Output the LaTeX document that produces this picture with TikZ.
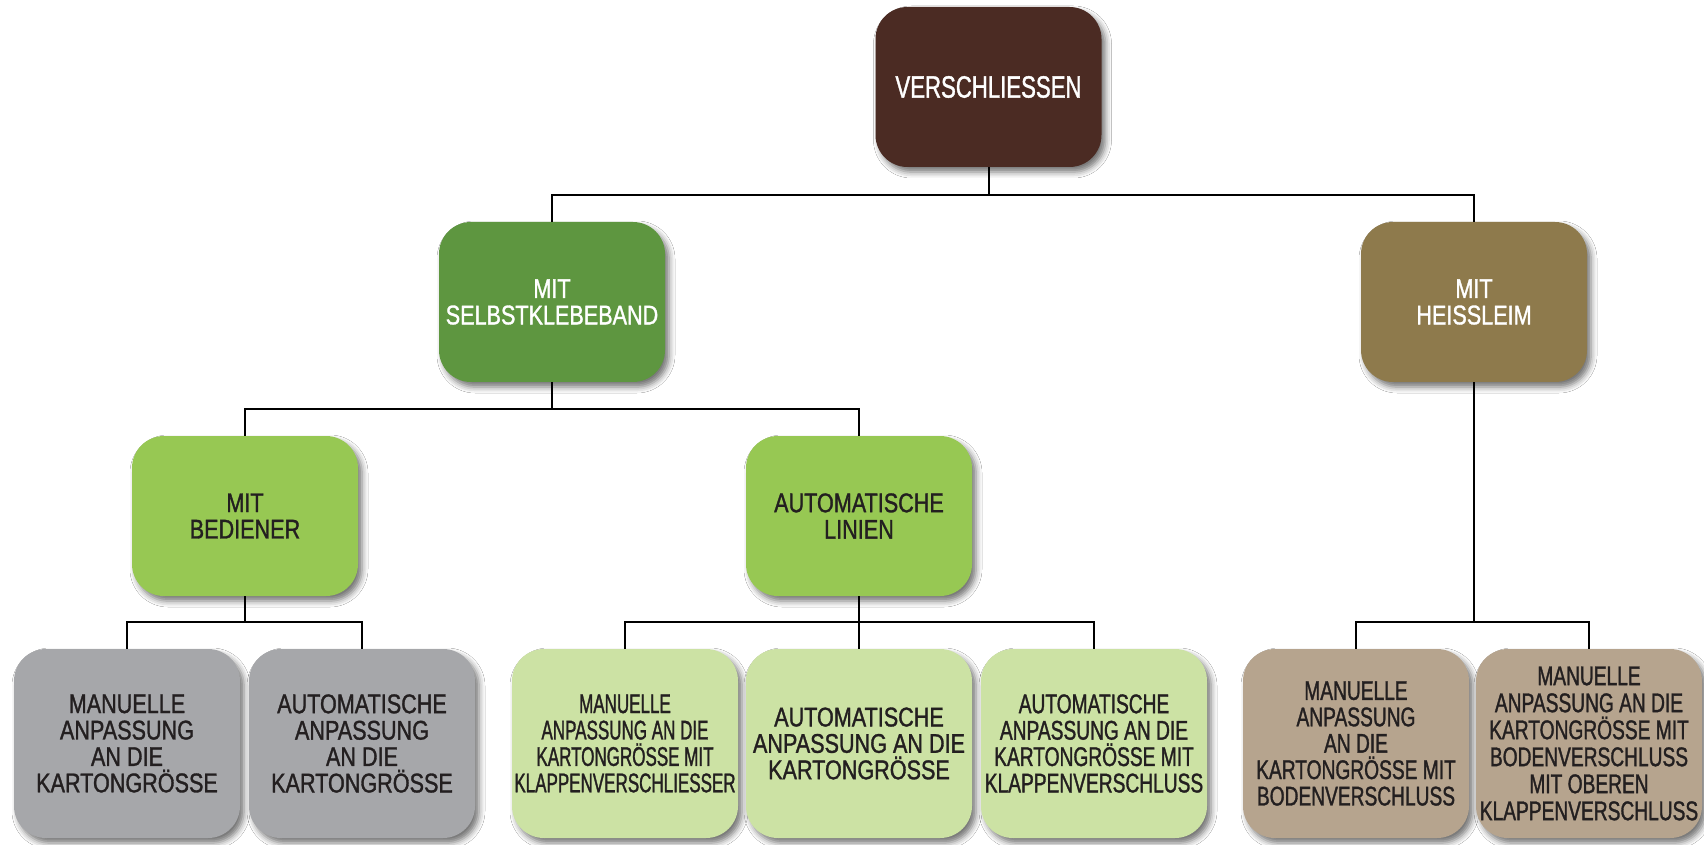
\documentclass[tikz,border=0pt]{standalone}
\usepackage{fontspec}
\setmainfont{Liberation Sans}
\newfontfamily\rootfont{Liberation Sans}[FakeStretch=0.72, FakeBold=1.2]
\newfontfamily\boxfont{Liberation Sans}[FakeStretch=0.80, FakeBold=1.2]
\newfontfamily\leaffont{Liberation Sans}[FakeStretch=0.71, FakeBold=1.2]
\newfontfamily\tightfont{Liberation Sans}[FakeStretch=0.63, FakeBold=1.2]
\usetikzlibrary{shadows.blur}
\definecolor{rootbrown}{HTML}{4B2B23}
\definecolor{tapegreen}{HTML}{5E9640}
\definecolor{gluebrown}{HTML}{8E7A4C}
\definecolor{midgreen}{HTML}{97C853}
\definecolor{leafgray}{HTML}{A6A7AA}
\definecolor{leafgreen}{HTML}{CCE2A4}
\definecolor{leaftan}{HTML}{B6A48E}
\definecolor{darktext}{HTML}{231F20}
\begin{document}
\begin{tikzpicture}[x=0.5pt, y=-0.5pt,
  kbox/.style={rounded corners=16pt, minimum width=113pt, minimum height=80pt, align=center, inner sep=1pt,
    text=darktext, font={\boxfont\fontsize{13.5}{13.2}\selectfont},
    blur shadow={shadow xshift=2pt, shadow yshift=-2.5pt, shadow blur radius=3pt, shadow opacity=55}},
  leaf/.style={kbox, minimum height=94.5pt},
  conn/.style={line width=1pt}]
\useasboundingbox[fill=white] (0,0) rectangle (1704,845);
\node[kbox, fill=rootbrown, text=white, font={\rootfont\fontsize{15.4}{16}\selectfont}] (root) at (988.5,87){VERSCHLIESSEN};
\node[kbox, fill=tapegreen, text=white] (tape) at (552,302){MIT\\SELBSTKLEBEBAND};
\node[kbox, fill=gluebrown, text=white] (glue) at (1474,302){MIT\\HEISSLEIM};
\node[kbox, fill=midgreen] (oper) at (245,516){MIT\\BEDIENER};
\node[kbox, fill=midgreen] (lines) at (859,516){AUTOMATISCHE\\LINIEN};
\node[leaf, fill=leafgray] (leaf1) at (127,743.5){MANUELLE\\ANPASSUNG\\AN DIE\\KARTONGRÖSSE};
\node[leaf, fill=leafgray] (leaf2) at (362,743.5){AUTOMATISCHE\\ANPASSUNG\\AN DIE\\KARTONGRÖSSE};
\node[leaf, fill=leafgreen, font={\tightfont\fontsize{13.5}{13.2}\selectfont}] (leaf3) at (625,743.5){MANUELLE\\ANPASSUNG AN DIE\\KARTONGRÖSSE MIT\\KLAPPENVERSCHLIESSER};
\node[leaf, fill=leafgreen] (leaf4) at (859,743.5){AUTOMATISCHE\\ANPASSUNG AN DIE\\KARTONGRÖSSE};
\node[leaf, fill=leafgreen, font={\leaffont\fontsize{13.5}{13.2}\selectfont}] (leaf5) at (1094,743.5){AUTOMATISCHE\\ANPASSUNG AN DIE\\KARTONGRÖSSE MIT\\KLAPPENVERSCHLUSS};
\node[leaf, fill=leaftan, font={\leaffont\fontsize{13.5}{13.2}\selectfont}] (leaf6) at (1356,743.5){MANUELLE\\ANPASSUNG\\AN DIE\\KARTONGRÖSSE MIT\\BODENVERSCHLUSS};
\node[leaf, fill=leaftan, font={\leaffont\fontsize{13.5}{13.5}\selectfont}] (leaf7) at (1589,743.5){MANUELLE\\ANPASSUNG AN DIE\\KARTONGRÖSSE MIT\\BODENVERSCHLUSS\\MIT OBEREN\\KLAPPENVERSCHLUSS};
\coordinate (bus1) at (988.5,195);
\coordinate (bus2) at (552,409);
\coordinate (bus3a) at (245,622);
\coordinate (bus3b) at (859,622);
\coordinate (bus3c) at (1474,622);
\draw[conn] (root.south) -- (bus1);
\draw[conn] (tape.north) |- (bus1) -| (glue.north);
\draw[conn] (tape.south) -- (bus2);
\draw[conn] (oper.north) |- (bus2) -| (lines.north);
\draw[conn] (oper.south) -- (bus3a);
\draw[conn] (leaf1.north) |- (bus3a) -| (leaf2.north);
\draw[conn] (lines.south) -- (leaf4.north);
\draw[conn] (leaf3.north) |- (bus3b) -| (leaf5.north);
\draw[conn] (glue.south) -- (bus3c);
\draw[conn] (leaf6.north) |- (bus3c) -| (leaf7.north);
\end{tikzpicture}
\end{document}
